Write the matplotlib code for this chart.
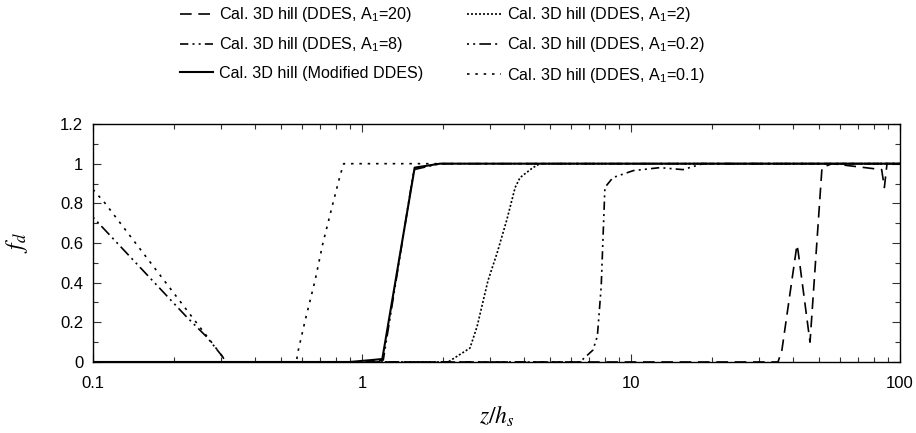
import numpy as np
import matplotlib.pyplot as plt
from matplotlib.ticker import FixedLocator, FixedFormatter, MultipleLocator, LogLocator, NullFormatter

plt.rcParams['font.family'] = ['Liberation Sans', 'DejaVu Sans']
plt.rcParams['mathtext.default'] = 'regular'

# data (z/h_s, f_d)
x_a20 = [0.1, 35.2, 36.4, 41.4, 41.8, 46.3, 51.3, 55.9, 85.5, 87.5, 89.5, 100]
y_a20 = [0, 0, 0.06, 0.59, 0.56, 0.10, 0.98, 1.0, 0.97, 0.88, 1.0, 1.0]

x_a8 = [0.1, 6.46, 7.22, 7.5, 7.75, 8.0, 8.57, 10.2, 12.8, 15.6, 18.5, 100]
y_a8 = [0, 0, 0.06, 0.13, 0.38, 0.88, 0.93, 0.965, 0.98, 0.97, 1.0, 1.0]

x_mod = [0.1, 0.9, 1.09, 1.19, 1.57, 1.95, 100]
y_mod = [0, 0, 0.01, 0.015, 0.98, 1.0, 1.0]

x_a2 = [0.1, 2.09, 2.52, 2.68, 2.94, 3.18, 3.46, 3.71, 3.87, 4.32, 4.59, 100]
y_a2 = [0, 0, 0.07, 0.18, 0.41, 0.55, 0.72, 0.88, 0.93, 0.98, 1.0, 1.0]

x_a02 = [0.1, 0.223, 0.265, 0.304, 0.31, 1.05, 1.2, 1.56, 1.95, 100]
y_a02 = [0.73, 0.227, 0.126, 0.025, 0, 0, 0.01, 0.97, 1.0, 1.0]

x_a01 = [0.1, 0.111, 0.245, 0.265, 0.304, 0.31, 0.57, 0.58, 0.615, 0.669,
         0.716, 0.78, 0.829, 0.855, 100]
y_a01 = [0.87, 0.80, 0.19, 0.13, 0.025, 0, 0, 0.06, 0.21, 0.41,
         0.60, 0.80, 0.94, 1.0, 1.0]

fig = plt.figure(figsize=(9.16, 4.33), dpi=100)
ax = fig.add_axes([0.1015, 0.164, 0.881, 0.5496])

l20, = ax.plot(x_a20, y_a20, color='black', lw=1.2, dashes=(7, 4),
               label='Cal. 3D hill (DDES, A$_1$=20)')
l8, = ax.plot(x_a8, y_a8, color='black', lw=1.2, dashes=(5, 2.5, 1.2, 2.5, 1.2, 2.5),
              label='Cal. 3D hill (DDES, A$_1$=8)')
lm, = ax.plot(x_mod, y_mod, color='black', lw=1.5,
              label='Cal. 3D hill (Modified DDES)')
l2, = ax.plot(x_a2, y_a2, color='black', lw=1.2, dashes=(1.2, 1.2),
              label='Cal. 3D hill (DDES, A$_1$=2)')
l02, = ax.plot(x_a02, y_a02, color='black', lw=1.2, dashes=(1.2, 2.5, 1.2, 2.5, 7, 2.5),
               label='Cal. 3D hill (DDES, A$_1$=0.2)')
l01, = ax.plot(x_a01, y_a01, color='black', lw=1.2, dashes=(1.5, 3.5),
               label='Cal. 3D hill (DDES, A$_1$=0.1)')

ax.set_xscale('log')
ax.set_xlim(0.1, 100)
ax.set_ylim(0, 1.2)
ax.xaxis.set_major_locator(FixedLocator([0.1, 1, 10, 100]))
ax.xaxis.set_major_formatter(FixedFormatter(['0.1', '1', '10', '100']))
ax.xaxis.set_minor_locator(LogLocator(base=10, subs=np.arange(2, 10)))
ax.xaxis.set_minor_formatter(NullFormatter())
ax.yaxis.set_major_locator(MultipleLocator(0.2))
ax.yaxis.set_minor_locator(MultipleLocator(0.1))
ax.yaxis.set_major_formatter(plt.FuncFormatter(lambda v, p: '%g' % round(v, 2)))

ax.tick_params(which='both', direction='in', top=True, right=True,
               labelsize=12, width=0.8, colors='#333333', labelcolor='black')
ax.tick_params(which='major', length=6)
ax.tick_params(axis='x', which='major', pad=10)
ax.tick_params(axis='y', which='major', pad=7)
ax.tick_params(which='minor', length=3.5)
for s in ax.spines.values():
    s.set_linewidth(1.0)

ax.set_xlabel(r'$\mathit{z/h}_\mathit{s}$', math_fontfamily='stix', fontsize=17, labelpad=9)
ax.set_ylabel(r'$\mathit{f}_\mathit{d}$', math_fontfamily='stix', fontsize=17, labelpad=22)

fig.legend(handles=[l20, l8, lm, l2, l02, l01], ncol=2, frameon=False,
           loc='upper left', bbox_to_anchor=(0.189, 1.003), fontsize=11.6,
           handlelength=2.1, handletextpad=0.35, columnspacing=2.72,
           labelspacing=0.7, borderaxespad=0)

plt.savefig('out.png', dpi=100)
